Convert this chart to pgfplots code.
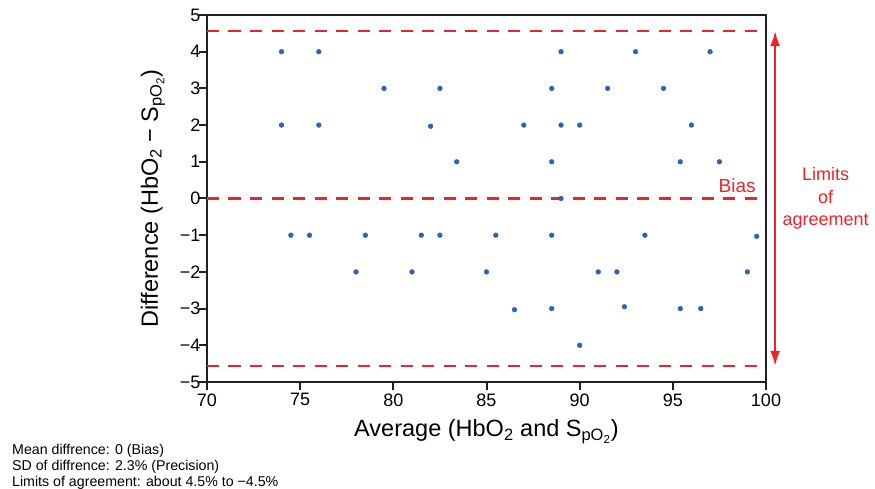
\documentclass[border=0pt]{standalone}
\usepackage{fontspec}
\setmainfont{Liberation Sans}
\usepackage{pgfplots}
\pgfplotsset{compat=1.18}
\usetikzlibrary{arrows.meta}
\definecolor{ptblue}{HTML}{2E62B4}
\definecolor{lred}{HTML}{EE2229}
\definecolor{axblack}{HTML}{231F20}
\begin{document}
\begin{tikzpicture}
\useasboundingbox (-207pt,-106pt) rectangle (668pt,382pt);
\begin{axis}[
  scale only axis,
  width=559pt, height=367pt,
  xmin=70, xmax=100, ymin=-5, ymax=5,
  xtick={70,75,...,100},
  ytick={-5,-4,...,5},
  yticklabels={−5,−4,−3,−2,−1,0,1,2,3,4,5},
  tick pos=left,
  tick align=outside,
  major tick length=8pt,
  tick style={line width=2pt, axblack},
  axis line style={line width=2pt, axblack},
  clip=false,
  ticklabel style={font=\fontsize{18}{20}\selectfont},
  yticklabel style={xshift=5pt},
  /pgf/number format/assume math mode=true,
  xlabel={Average (HbO\textsubscript{2} and S\textsubscript{pO\textsubscript{2}})},
  ylabel={Difference (HbO\textsubscript{2} − S\textsubscript{pO\textsubscript{2}})},
  label style={font=\fontsize{23.5}{26}\selectfont},
  xlabel style={at={(axis description cs:0.5,0)}, anchor=base, yshift=-54.7pt},
  ylabel style={at={(axis description cs:-0.0877,0.5)}, anchor=base, rotate=0},
]
\addplot[lred, line width=2.2pt, dash pattern=on 12pt off 9.5pt, forget plot] coordinates {(70,4.56) (100,4.56)};
\addplot[lred, line width=2.2pt, dash pattern=on 12pt off 9.5pt, forget plot] coordinates {(70,0) (100,0)};
\addplot[lred, line width=2.2pt, dash pattern=on 12pt off 9.5pt, forget plot] coordinates {(70,-4.56) (100,-4.56)};
\addplot[only marks, mark=*, mark size=2.4pt, ptblue, mark options={draw=ptblue, fill=ptblue}] coordinates {
(74,4) (76,4) (89,4) (93,4) (97,4)
(79.5,3) (82.5,3) (88.5,3) (91.5,3) (94.5,3)
(74,2) (76,2) (82,1.97) (87,2) (89,2) (90,2) (96,2)
(83.4,1) (88.5,1) (95.4,1) (97.5,1)
(89,0)
(74.5,-1) (75.5,-1) (78.5,-1) (81.5,-1) (82.5,-1) (85.5,-1) (88.5,-1) (93.5,-1) (99.5,-1.03)
(78,-2) (81,-2) (85,-2) (91,-2) (92,-2) (99,-2)
(86.5,-3.03) (88.5,-3) (92.4,-2.95) (95.4,-3) (96.5,-3)
(90,-4)
};
\addplot[lred, line width=2pt, {Latex[length=15pt,width=10pt]}-{Latex[length=15pt,width=10pt]}, forget plot] coordinates {(100.49,4.56) (100.49,-4.56)};
\node[lred, font=\fontsize{19}{22}\selectfont] at (axis cs:98.45,0.36) {Bias};
\node[lred, font=\fontsize{18}{22.5}\selectfont, align=center] at (axis cs:103.2,0) {Limits\\of\\agreement};
\end{axis}
\begin{scope}[every node/.style={anchor=base west, inner sep=0pt, font=\fontsize{14.2}{16}\selectfont}]
\node at (-195pt,-72pt) {Mean diffrence: 0 (Bias)};
\node at (-195pt,-88pt) {SD of diffrence: 2.3\% (Precision)};
\node at (-195pt,-104pt) {Limits of agreement: about 4.5\% to −4.5\%};
\end{scope}
\end{tikzpicture}
\end{document}
